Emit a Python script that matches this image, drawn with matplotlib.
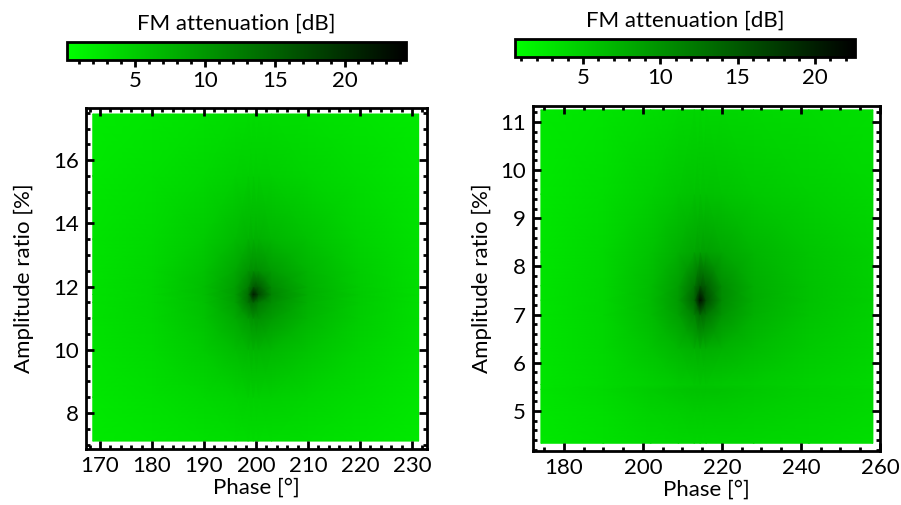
import numpy as np
import matplotlib
matplotlib.use('Agg')
import matplotlib.pyplot as plt
from matplotlib.colors import LinearSegmentedColormap
from matplotlib.ticker import MultipleLocator

plt.rcParams['font.family'] = ['Lato', 'DejaVu Sans']
plt.rcParams['font.size'] = 16

# left map: phase / amplitude nodes and attenuation [dB]
phase_l = [168.6, 180, 190, 196, 198.5, 199.5, 200.5, 203, 210, 220, 231.3]
amp_l = [7.11, 8.5, 10.0, 11.0, 11.5, 11.75, 12.0, 12.5, 13.5, 15.5, 17.46]
att_l = [
    [2.2, 2.6, 3.0, 3.3, 3.4, 3.4, 3.4, 3.4, 3.2, 2.7, 2.2],
    [2.5, 3.1, 3.9, 4.4, 4.6, 4.6, 4.6, 4.6, 4.2, 3.4, 2.6],
    [2.8, 3.7, 5.1, 6.4, 7.0, 7.2, 7.2, 6.9, 5.8, 4.3, 3.0],
    [3.0, 4.0, 5.9, 8.2, 9.8, 10.6, 10.6, 9.6, 7.1, 4.8, 3.2],
    [3.0, 4.1, 6.2, 9.2, 13.5, 15.0, 13.0, 11.0, 7.6, 5.0, 3.3],
    [3.0, 4.1, 6.3, 9.5, 14.0, 22.0, 17.5, 11.8, 7.8, 5.1, 3.3],
    [3.0, 4.1, 6.3, 9.3, 12.5, 16.0, 15.5, 11.2, 7.7, 5.0, 3.3],
    [2.9, 4.0, 6.0, 8.4, 10.3, 11.0, 10.8, 9.6, 7.2, 4.8, 3.2],
    [2.8, 3.7, 5.1, 6.6, 7.4, 7.6, 7.6, 7.1, 6.0, 4.3, 3.0],
    [2.5, 3.1, 3.9, 4.5, 4.7, 4.8, 4.8, 4.7, 4.2, 3.4, 2.6],
    [2.2, 2.6, 3.0, 3.4, 3.5, 3.5, 3.5, 3.5, 3.2, 2.7, 2.2],
]

# right map
phase_r = [174.2, 190, 202, 209, 213, 214.5, 216, 220, 228, 242, 258.2]
amp_r = [4.33, 5.0, 5.45, 5.55, 6.3, 7.0, 7.3, 7.6, 8.3, 9.5, 11.25]
att_r = [
    [2.6, 3.2, 3.8, 4.1, 4.2, 4.2, 4.2, 4.2, 4.1, 3.8, 3.4],
    [2.8, 3.5, 4.4, 4.8, 5.0, 5.0, 5.0, 5.0, 4.8, 4.3, 3.8],
    [3.0, 3.9, 5.0, 5.6, 5.9, 5.9, 5.9, 5.8, 5.4, 4.7, 4.1],
    [2.9, 3.7, 4.6, 5.2, 5.4, 5.5, 5.5, 5.4, 5.1, 4.5, 3.9],
    [3.0, 4.0, 5.6, 6.8, 7.4, 7.6, 7.6, 7.3, 6.4, 5.2, 4.3],
    [3.0, 4.2, 6.4, 8.8, 11.5, 13.5, 12.5, 9.8, 7.4, 5.7, 4.6],
    [3.0, 4.2, 6.5, 9.3, 14.0, 21.5, 16.0, 10.6, 7.7, 5.9, 4.8],
    [3.0, 4.2, 6.4, 9.0, 12.5, 15.5, 14.5, 10.4, 7.6, 5.9, 4.8],
    [2.9, 4.0, 5.8, 7.4, 8.4, 8.8, 8.8, 8.2, 6.9, 5.6, 4.6],
    [2.7, 3.6, 4.7, 5.5, 5.9, 6.0, 6.0, 5.8, 5.3, 4.7, 4.0],
    [2.5, 3.0, 3.6, 4.0, 4.2, 4.2, 4.2, 4.2, 4.0, 3.7, 3.4],
]

cmap = LinearSegmentedColormap.from_list('gk', ['#00ff00', '#000000'])

W, H = 901, 505
fig = plt.figure(figsize=(W / 100, H / 100), dpi=100)


def px(x0, y0, x1, y1):
    # pixel box -> figure fraction
    return [x0 / W, (H - y1) / H, (x1 - x0) / W, (y1 - y0) / H]


def style_axes(ax, xmaj, xmin, ymaj, ymin, ypad):
    for s in ax.spines.values():
        s.set_linewidth(2)
    ax.xaxis.set_major_locator(MultipleLocator(xmaj))
    ax.xaxis.set_minor_locator(MultipleLocator(xmin))
    ax.yaxis.set_major_locator(MultipleLocator(ymaj))
    ax.yaxis.set_minor_locator(MultipleLocator(ymin))
    ax.tick_params(which='both', direction='in', top=True, right=True, width=2)
    ax.tick_params(which='major', length=6, pad=5)
    ax.tick_params(which='minor', length=3)
    ax.set_xlabel('Phase [°]', labelpad=1)
    ax.set_ylabel('Amplitude ratio [%]', labelpad=ypad)


def style_cbar(cb, vmin, vmax):
    cb.outline.set_linewidth(2)
    cb.ax.xaxis.set_major_locator(MultipleLocator(5))
    cb.ax.xaxis.set_minor_locator(MultipleLocator(1))
    cb.ax.tick_params(which='both', width=2, direction='out')
    cb.ax.tick_params(which='major', length=5, pad=3)
    cb.ax.tick_params(which='minor', length=3)
    cb.ax.set_xlim(vmin, vmax)
    cb.ax.xaxis.set_label_position('top')
    cb.set_label('FM attenuation [dB]', labelpad=9)


# left panel
ax1 = fig.add_axes(px(86, 108, 427, 449))
X, Y = np.meshgrid(phase_l, amp_l)
m1 = ax1.pcolormesh(X, Y, np.array(att_l), cmap=cmap, vmin=0.14, vmax=24.4,
                    shading='gouraud', rasterized=True)
ax1.set_xlim(167.3, 232.9)
ax1.set_ylim(6.86, 17.65)
style_axes(ax1, 10, 2, 2, 0.5, 14)
cax1 = fig.add_axes(px(67, 42, 406, 60))
cb1 = fig.colorbar(m1, cax=cax1, orientation='horizontal')
style_cbar(cb1, 0.14, 24.4)

# right panel
ax2 = fig.add_axes(px(533, 106, 880, 451))
X, Y = np.meshgrid(phase_r, amp_r)
m2 = ax2.pcolormesh(X, Y, np.array(att_r), cmap=cmap, vmin=0.6, vmax=22.6,
                    shading='gouraud', rasterized=True)
ax2.set_xlim(172.2, 260)
ax2.set_ylim(4.17, 11.33)
style_axes(ax2, 20, 5, 1, 0.2, 6)
cax2 = fig.add_axes(px(515, 39, 855, 57))
cb2 = fig.colorbar(m2, cax=cax2, orientation='horizontal')
style_cbar(cb2, 0.6, 22.6)

fig.savefig('out.png', dpi=100)
